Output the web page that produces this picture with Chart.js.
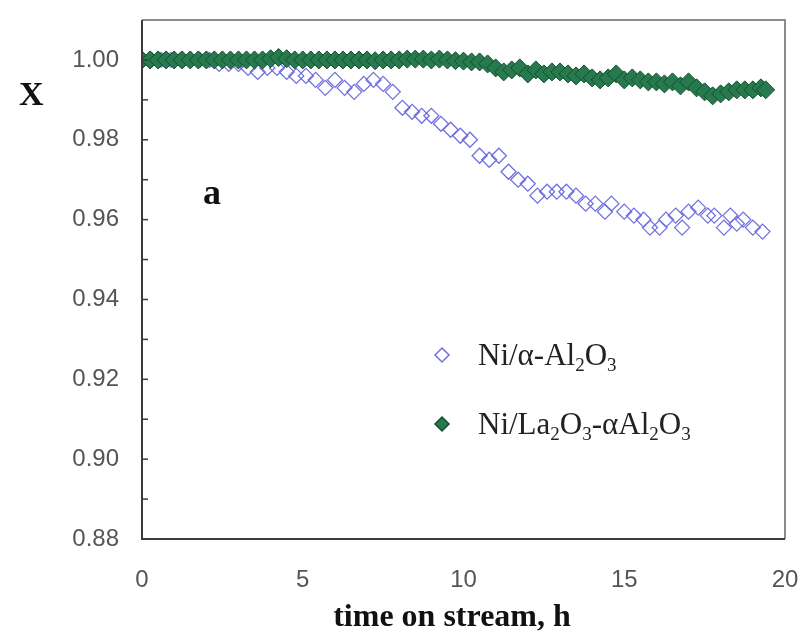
<!DOCTYPE html>
<html>
<head>
<meta charset="utf-8">
<script src="https://cdn.jsdelivr.net/npm/chart.js@4.4.1/dist/chart.umd.min.js"></script>
<style>
  html, body { margin: 0; padding: 0; background: #fff; }
  #wrap { position: relative; width: 806px; height: 636px; }
</style>
</head>
<body>
<div id="wrap"><canvas id="conv"></canvas></div>
<script>
// Ni/alpha-Al2O3 (hollow blue diamonds)
const timeNiAl = [0.0, 0.3, 0.6, 0.9, 1.2, 1.5, 1.8, 2.1, 2.4, 2.7, 3.0, 3.3, 3.6, 3.9, 4.2, 4.5, 4.8, 5.1,
  5.4, 5.7, 6.0, 6.3, 6.6, 6.9, 7.2, 7.5, 7.8, 8.1, 8.4, 8.7, 9.0, 9.3, 9.6, 9.9, 10.2, 10.5, 10.8, 11.1,
  11.4, 11.7, 12.0, 12.3, 12.6, 12.9, 13.2, 13.5, 13.8, 14.1, 14.4, 14.6, 15.0, 15.3, 15.6, 15.8, 16.1,
  16.3, 16.6, 16.8, 17.0, 17.3, 17.6, 17.8, 18.1, 18.3, 18.5, 18.7, 19.0, 19.3];
const convNiAl = [1.000, 1.000, 1.000, 1.000, 1.000, 1.000, 1.000, 1.000, 0.999, 0.999, 0.999, 0.998, 0.997,
  0.998, 0.998, 0.997, 0.996, 0.996, 0.995, 0.993, 0.995, 0.993, 0.992, 0.994, 0.995, 0.994, 0.992, 0.988,
  0.987, 0.986, 0.986, 0.984, 0.9825, 0.981, 0.980, 0.976, 0.975, 0.976, 0.972, 0.970, 0.969, 0.966, 0.967,
  0.967, 0.967, 0.966, 0.964, 0.964, 0.962, 0.964, 0.962, 0.961, 0.960, 0.958, 0.958, 0.960, 0.961, 0.958,
  0.962, 0.963, 0.961, 0.961, 0.958, 0.961, 0.959, 0.960, 0.958, 0.957];

// Ni/La2O3-alpha-Al2O3 (filled green diamonds)
const timeNiLa = [0.0, 0.25, 0.5, 0.75, 1.0, 1.25, 1.5, 1.75, 2.0, 2.25, 2.5, 2.75, 3.0, 3.25, 3.5, 3.75,
  4.0, 4.25, 4.5, 4.75, 5.0, 5.25, 5.5, 5.75, 6.0, 6.25, 6.5, 6.75, 7.0, 7.25, 7.5, 7.75, 8.0, 8.25, 8.5,
  8.75, 9.0, 9.25, 9.5, 9.75, 10.0, 10.25, 10.5, 10.75, 11.0, 11.25, 11.5, 11.75, 12.0, 12.25, 12.5, 12.75,
  13.0, 13.25, 13.5, 13.75, 14.0, 14.25, 14.5, 14.75, 15.0, 15.25, 15.5, 15.75, 16.0, 16.25, 16.5, 16.75,
  17.0, 17.25, 17.5, 17.75, 18.0, 18.25, 18.5, 18.75, 19.0, 19.25, 19.4];
const convNiLa = [1.000, 1.000, 1.000, 1.000, 1.000, 1.000, 1.000, 1.000, 1.000, 1.000, 1.000, 1.000, 1.000,
  1.000, 1.000, 1.000, 1.0003, 1.0006, 1.0003, 1.000, 1.000, 1.000, 1.000, 1.000, 1.000, 1.000, 1.000, 1.000,
  1.000, 0.9998, 1.000, 1.000, 1.000, 1.0002, 1.0002, 1.0002, 1.000, 1.0002, 1.000, 0.9998, 0.9997, 0.9995,
  0.9995, 0.999, 0.998, 0.997, 0.9975, 0.998, 0.9965, 0.9975, 0.9965, 0.997, 0.997, 0.9965, 0.996, 0.9965,
  0.9955, 0.995, 0.9955, 0.9965, 0.995, 0.9955, 0.995, 0.9945, 0.9945, 0.994, 0.9945, 0.9935, 0.9945, 0.993,
  0.992, 0.991, 0.9915, 0.992, 0.9925, 0.9925, 0.9925, 0.993, 0.9925];

const yTicks = [0.88, 0.90, 0.92, 0.94, 0.96, 0.98, 1.00];
const yMinorTicks = [0.89, 0.91, 0.93, 0.95, 0.97, 0.99];
const xTicks = [0, 5, 10, 15, 20];

const xTitle = 'time on stream, h';
const seriesNames = [
  [['Ni/\u03b1-Al', false], ['2', true], ['O', false], ['3', true]],
  [['Ni/La', false], ['2', true], ['O', false], ['3', true], ['-\u03b1Al', false], ['2', true], ['O', false], ['3', true]]
];

const blue = 'rgb(112,112,224)';
const greenFill = 'rgb(38,122,78)';
const greenEdge = 'rgb(22,78,48)';

function toPoints(xs, ys) {
  return xs.map((t, i) => ({ x: t, y: ys[i] }));
}

function richText(ctx, parts, x, y, size) {
  let cx = x;
  parts.forEach(p => {
    const s = p[1] ? Math.round(size * 0.62) : size;
    ctx.font = s + 'px "Liberation Serif", serif';
    ctx.fillText(p[0], cx, p[1] ? y + size * 0.2 : y);
    cx += ctx.measureText(p[0]).width;
  });
}

// no label-overflow padding, so layout.padding alone fixes the plot box
function noOverflow(s) {
  s.paddingLeft = 0; s.paddingRight = 0; s.paddingTop = 0; s.paddingBottom = 0;
}

// inward tick marks, frame, and free-standing labels
const decor = {
  id: 'decor',
  afterDraw(chart) {
    const ctx = chart.ctx;
    const a = chart.chartArea;
    const ys = chart.scales.y;
    ctx.save();
    // frame: top/right lighter, left/bottom darker
    ctx.lineWidth = 2;
    ctx.strokeStyle = '#8c8c8c';
    ctx.beginPath();
    ctx.moveTo(a.left, a.top); ctx.lineTo(a.right, a.top); ctx.lineTo(a.right, a.bottom);
    ctx.stroke();
    ctx.strokeStyle = '#3c3c3c';
    ctx.beginPath();
    ctx.moveTo(a.left, a.top); ctx.lineTo(a.left, a.bottom); ctx.lineTo(a.right, a.bottom);
    ctx.stroke();
    // y ticks pointing into the plot
    ctx.lineWidth = 1.5;
    yTicks.concat(yMinorTicks).forEach(v => {
      const py = ys.getPixelForValue(v);
      ctx.beginPath();
      ctx.moveTo(a.left, py);
      ctx.lineTo(a.left + 6, py);
      ctx.stroke();
    });

    ctx.fillStyle = '#111';
    ctx.textBaseline = 'alphabetic';
    // axis titles and panel letter
    ctx.font = 'bold 34px "Liberation Serif", serif';
    ctx.fillText('X', 19, 105);
    ctx.font = 'bold 36px "Liberation Serif", serif';
    ctx.fillText('a', 203, 204);
    ctx.font = 'bold 32px "Liberation Serif", serif';
    ctx.textAlign = 'center';
    ctx.fillText(xTitle, 452, 626);
    ctx.textAlign = 'left';

    // legend
    const rows = [
      { y: 355, ds: chart.data.datasets[1], name: seriesNames[0] },
      { y: 424, ds: chart.data.datasets[0], name: seriesNames[1] }
    ];
    rows.forEach(r => {
      const cx = 442;
      const rad = 7;
      ctx.beginPath();
      ctx.moveTo(cx, r.y - rad); ctx.lineTo(cx + rad, r.y); ctx.lineTo(cx, r.y + rad); ctx.lineTo(cx - rad, r.y);
      ctx.closePath();
      if (r.ds.pointBackgroundColor !== 'rgba(0,0,0,0)') {
        ctx.fillStyle = r.ds.pointBackgroundColor;
        ctx.fill();
      }
      ctx.lineWidth = 1.5;
      ctx.strokeStyle = r.ds.pointBorderColor;
      ctx.stroke();
      ctx.fillStyle = '#222';
      richText(ctx, r.name, 478, r.y + 10, 31);
    });
    ctx.restore();
  }
};

const config = {
  type: 'scatter',
  data: {
    datasets: [
      {
        label: 'Ni/La2O3-aAl2O3',
        data: toPoints(timeNiLa, convNiLa),
        pointStyle: 'rectRot',
        pointRadius: 9,
        pointBackgroundColor: greenFill,
        pointBorderColor: greenEdge,
        pointBorderWidth: 1,
        order: 0
      },
      {
        label: 'Ni/a-Al2O3',
        data: toPoints(timeNiAl, convNiAl),
        pointStyle: 'rectRot',
        pointRadius: 7.5,
        pointBackgroundColor: 'rgba(0,0,0,0)',
        pointBorderColor: blue,
        pointBorderWidth: 1.3,
        order: 1
      }
    ]
  },
  options: {
    responsive: false,
    animation: false,
    events: [],
    layout: { padding: { top: 20, right: 21, left: 0, bottom: 0 } },
    plugins: {
      legend: { display: false },
      tooltip: { enabled: false }
    },
    scales: {
      x: {
        type: 'linear',
        min: 0,
        max: 20,
        afterBuildTicks: s => { s.ticks = xTicks.map(v => ({ value: v })); },
        ticks: {
          color: '#555',
          padding: 27,
          font: { family: '"Liberation Sans", Arial, sans-serif', size: 24 }
        },
        grid: { display: false, drawTicks: false },
        border: { display: false },
        afterFit: s => { s.height = 97; noOverflow(s); }
      },
      y: {
        type: 'linear',
        min: 0.88,
        max: 1.01,
        afterBuildTicks: s => { s.ticks = yTicks.map(v => ({ value: v })); },
        ticks: {
          color: '#555',
          padding: 23,
          callback: v => v.toFixed(2),
          font: { family: '"Liberation Sans", Arial, sans-serif', size: 24 }
        },
        grid: { display: false, drawTicks: false },
        border: { display: false },
        afterFit: s => { s.width = 142; noOverflow(s); }
      }
    }
  },
  plugins: [decor]
};

const canvas = document.getElementById('conv');
canvas.width = 806;
canvas.height = 636;
new Chart(canvas, config);
</script>
</body>
</html>
